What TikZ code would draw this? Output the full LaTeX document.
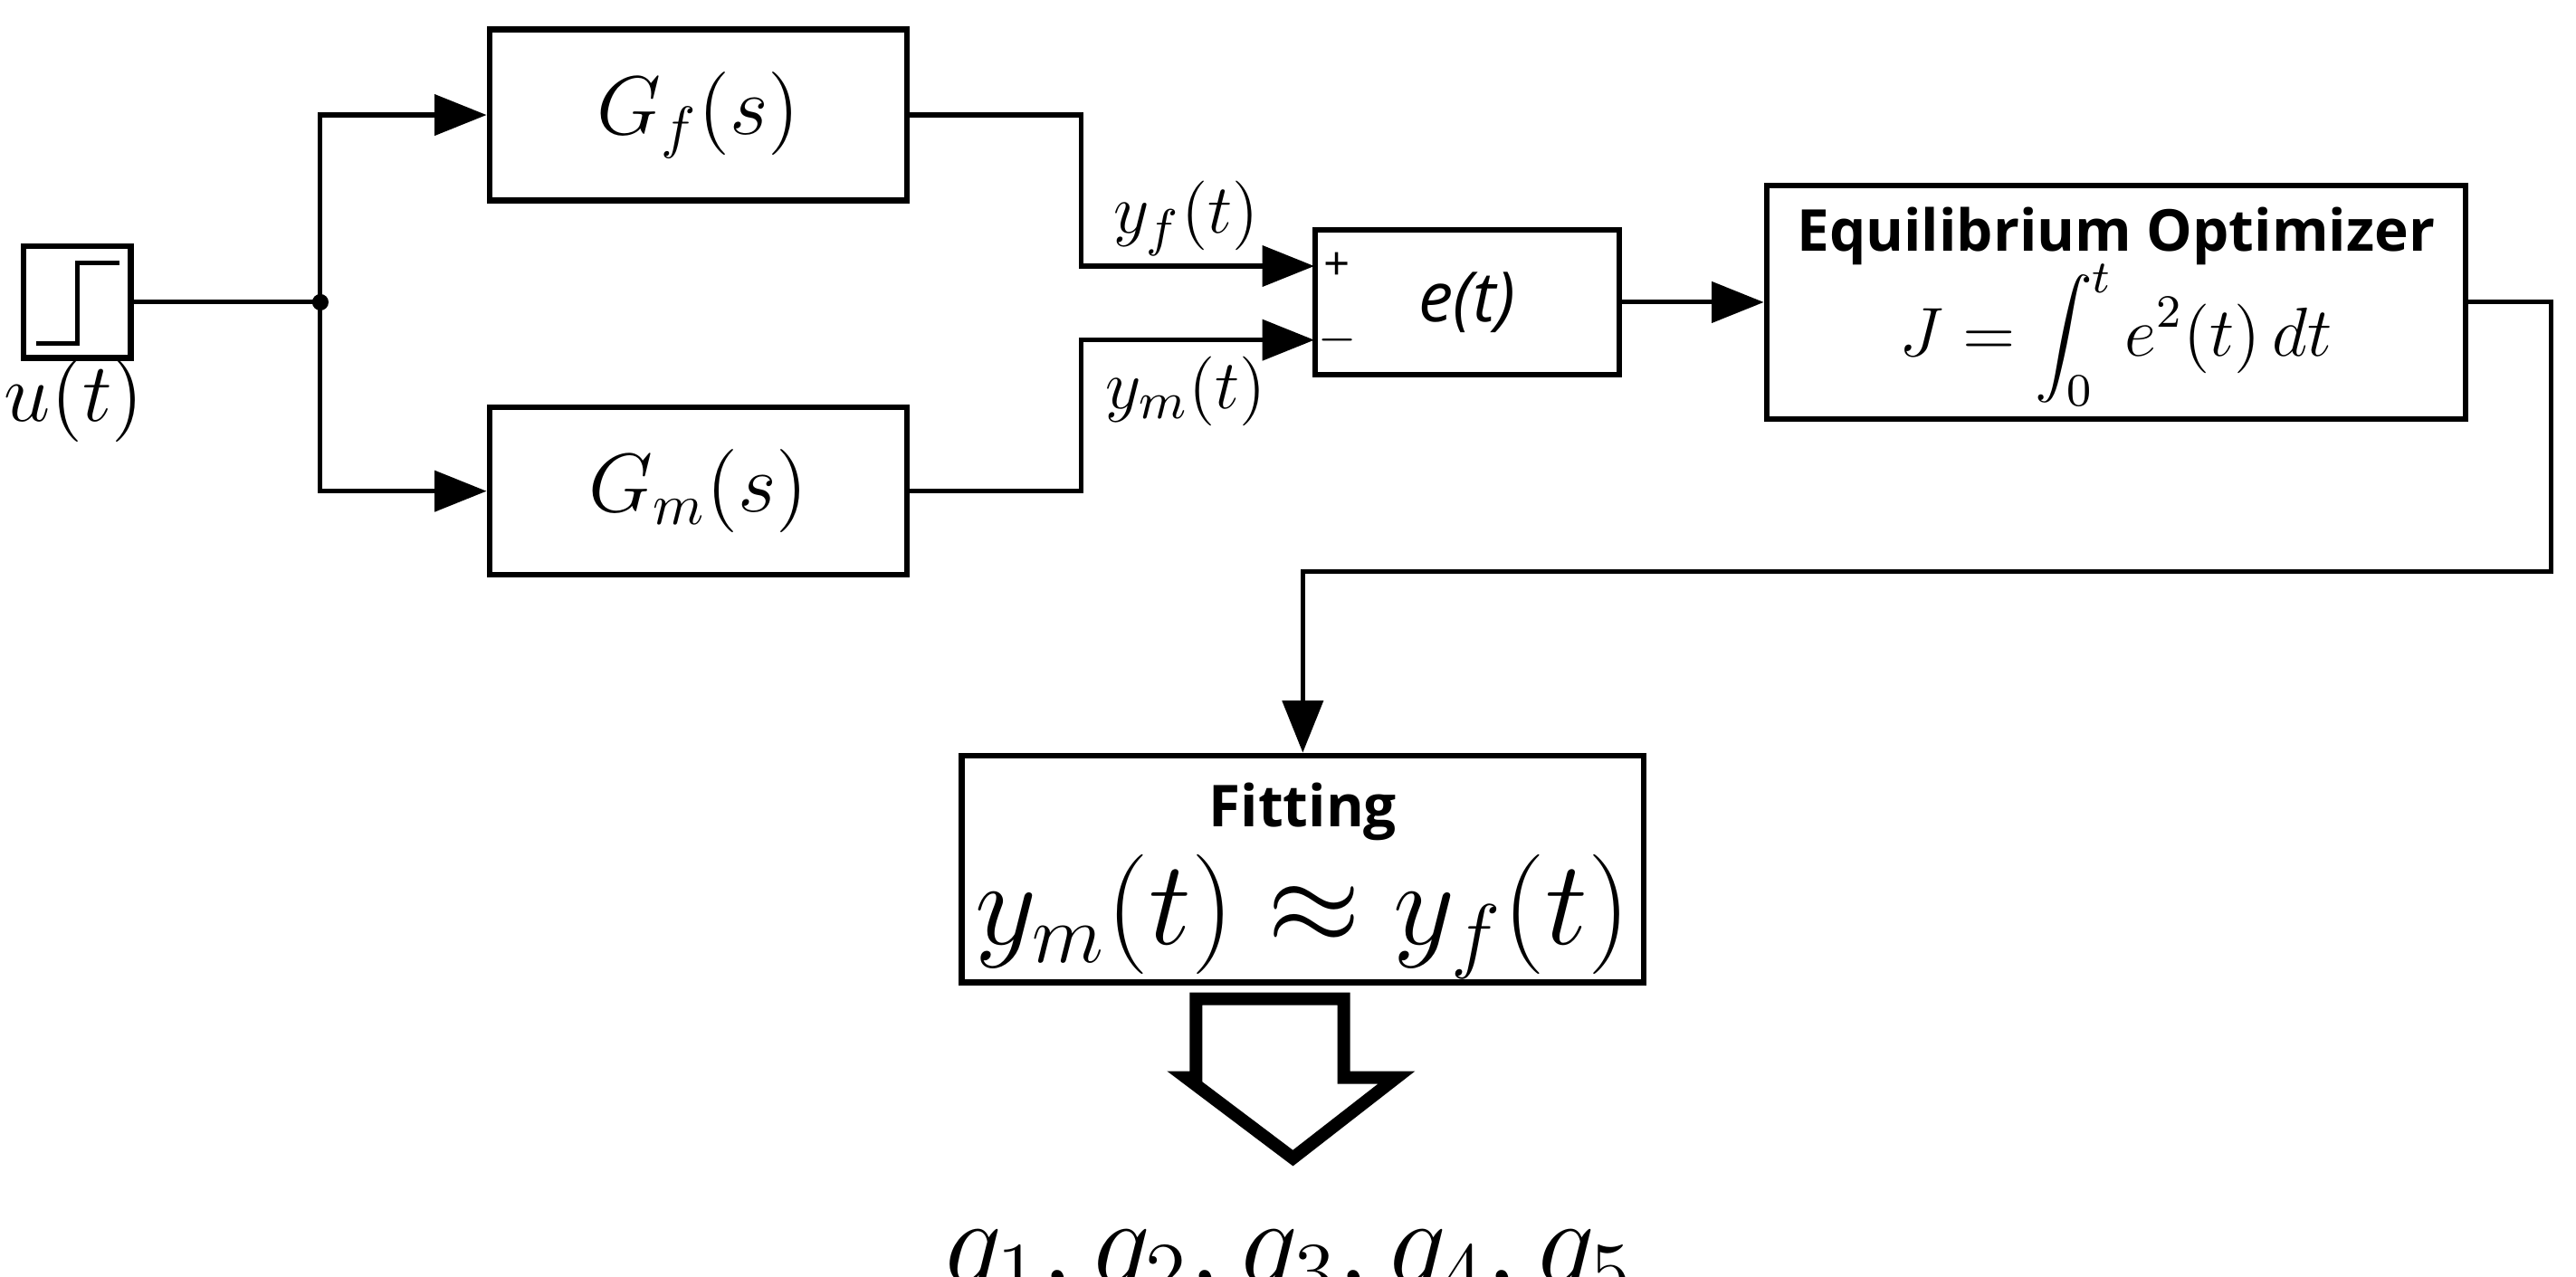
\documentclass[tikz,border=0pt]{standalone}
\usepackage{fontspec}
\setmainfont{Liberation Serif}
\newfontfamily\sansf{Open Sans}
\usetikzlibrary{arrows.meta}
\begin{document}
\begin{tikzpicture}[x=0.01cm,y=-0.01cm,
  blk/.style={draw,line width=1pt,inner sep=0pt},
  wire/.style={line width=0.8pt},
  arr/.style={wire,-{Triangle[length=9pt,width=7pt]}},
  ttl/.style={font=\sansf\bfseries\fontsize{10}{12}\selectfont}]
\useasboundingbox (0,0) rectangle (1568,777);
% step block
\node[blk,minimum width=0.65cm,minimum height=0.68cm] (step) at (47,184) {};
\coordinate (stepr) at (step.east);
\draw[wire] (22,209) -- (47,209) -- (47,160) -- (73,160);
\node (u) at (45,244) {\fontsize{14}{16}\selectfont $u(t)$};
% blocks
\node[blk,minimum width=2.54cm,minimum height=1.04cm] (gf) at (425,70) {\fontsize{14}{16}\selectfont $G_f(s)$};
\node[blk,minimum width=2.54cm,minimum height=1.02cm] (gm) at (425,299) {\fontsize{14}{16}\selectfont $G_m(s)$};
\node[blk,minimum width=1.85cm,minimum height=0.88cm] (e) at (893,184) {\sansf\itshape\fontsize{12}{14}\selectfont e(t)};
\node[blk,minimum width=4.25cm,minimum height=1.42cm] (eo) at (1288,184) {};
\node[ttl,anchor=north] (eot) at (1288,114) {Equilibrium Optimizer};
\node (J) at (1288,204) {\fontsize{12}{14}\selectfont $J=\displaystyle\int_0^t e^2(t)\,dt$};
\node[blk,minimum width=4.15cm,minimum height=1.38cm] (fit) at (793,529) {};
\node[ttl,anchor=north] (fitt) at (793,464) {Fitting};
\node (ff) at (793,558) {\fontsize{21}{24}\selectfont $y_m(t)\approx y_f(t)$};
% junction
\coordinate (j) at (195,184);
\fill (j) circle (5);
\draw[wire] (stepr) -- (j);
\draw[arr] (j) |- (gf.west);
\draw[arr] (j) |- (gm.west);
\coordinate (ef+) at (800,162);
\coordinate (ef-) at (800,207);
\draw[arr] (gf.east) -| (658,162) -- (ef+);
\draw[arr] (gm.east) -| (658,207) -- (ef-);
\node at (814,162) {\sansf\fontsize{8}{9}\selectfont +};
\node at (814,207) {\sansf\fontsize{8}{9}\selectfont $-$};
\node (yf) at (722,133) {\fontsize{13}{15}\selectfont $y_f(t)$};
\node (ym) at (722,238) {\fontsize{13}{15}\selectfont $y_m(t)$};
\draw[arr] (e.east) -- (eo.west);
\draw[arr] (eo.east) -- (1553,184) -- (1553,348) -- (793,348) -- (fit.north);
% hollow arrow
\draw[line width=2.2pt,line join=miter] (728,608) -- (818,608) -- (818,656) -- (850,656) -- (787,705) -- (722,656) -- (728,656) -- cycle;
\node (q) at (785,772) {\fontsize{22}{26}\selectfont $q_1,q_2,q_3,q_4,q_5$};
\end{tikzpicture}
\end{document}
